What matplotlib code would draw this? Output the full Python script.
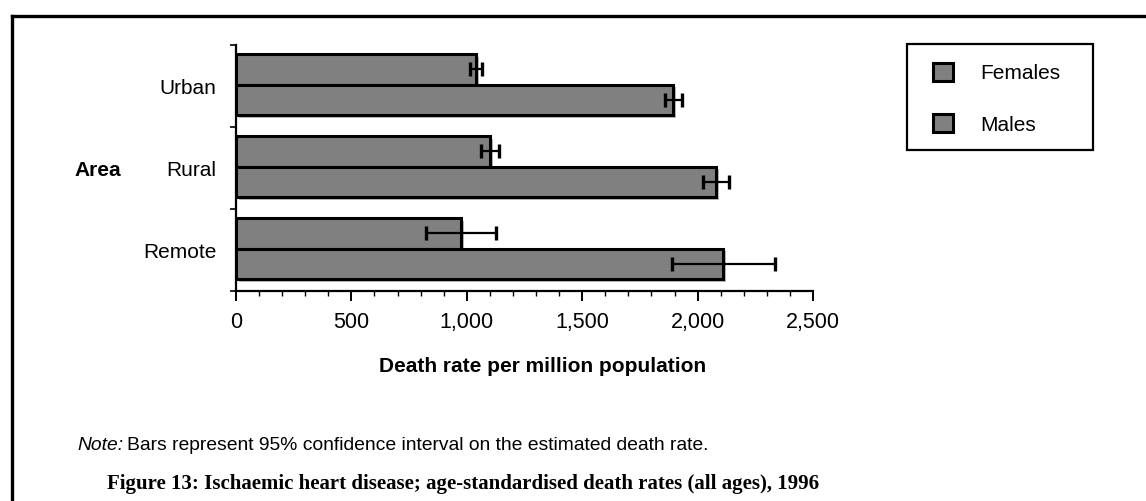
import matplotlib
matplotlib.use("Agg")
import matplotlib.pyplot as plt
from matplotlib.patches import Patch, Rectangle
from matplotlib.lines import Line2D
import matplotlib.patheffects as pe
from matplotlib.ticker import MultipleLocator, FixedLocator, FuncFormatter

areas = ["Remote", "Rural", "Urban"]
females = [975, 1100, 1040]
females_err = [150, 38, 25]
males = [2112, 2080, 1895]
males_err = [225, 58, 38]

plt.rcParams['font.family'] = ['Liberation Sans', 'DejaVu Sans']

W, H = 1146, 501
fig = plt.figure(figsize=(W / 100, H / 100), dpi=100)

ax = fig.add_axes([236 / W, 1 - 291 / H, (813 - 236) / W, (291 - 45) / H])

grey = "#808080"
h = 0.375
ypos = list(range(len(areas)))
yf = [y + 0.205 for y in ypos]
ym = [y - 0.17 for y in ypos]
shadow = [pe.SimplePatchShadow(offset=(2, -2), shadow_rgbFace="#b8b8b8", alpha=1.0), pe.Normal()]

bf = ax.barh(yf, females, height=h, color=grey, edgecolor="black", linewidth=2.2, zorder=2)
bm = ax.barh(ym, males, height=h, color=grey, edgecolor="black", linewidth=2.2, zorder=2)
for b in list(bf) + list(bm):
    b.set_path_effects(shadow)

ax.errorbar(females, yf, xerr=females_err, fmt="none", ecolor="black", elinewidth=1.6,
            capsize=5, capthick=2.4, zorder=3)
ax.errorbar(males, ym, xerr=males_err, fmt="none", ecolor="black", elinewidth=1.6,
            capsize=5, capthick=2.4, zorder=3)

ax.set_xlim(0, 2500)
ax.set_ylim(-0.5, 2.5)

for s in ["top", "right"]:
    ax.spines[s].set_visible(False)
for s in ["left", "bottom"]:
    ax.spines[s].set_linewidth(1.6)
    ax.spines[s].set_color("black")

ax.xaxis.set_major_locator(MultipleLocator(500))
ax.xaxis.set_minor_locator(MultipleLocator(100))
ax.xaxis.set_major_formatter(FuncFormatter(lambda v, p: f"{int(v):,}"))
ax.tick_params(axis="x", which="major", length=7, width=1.4, direction="out", labelsize=15.5, pad=8)
ax.tick_params(axis="x", which="minor", length=3.5, width=1.0, direction="out")

ax.yaxis.set_major_locator(FixedLocator(ypos))
ax.set_yticklabels(areas)
ax.yaxis.set_minor_locator(FixedLocator([-0.5, 0.5, 1.5, 2.5]))
ax.tick_params(axis="y", which="major", length=0, labelsize=15, pad=14)
ax.tick_params(axis="y", which="minor", length=4.5, width=1.2, direction="out")

fig.text(98 / W, 1 - 171 / H, "Area", fontsize=15, fontweight="bold", ha="center", va="center")
fig.text(543 / W, 1 - 367 / H, "Death rate per million population", fontsize=15,
         fontweight="bold", ha="center", va="center")

handles = [Patch(facecolor=grey, edgecolor="black", linewidth=2.2, label="Females"),
           Patch(facecolor=grey, edgecolor="black", linewidth=2.2, label="Males")]
leg = fig.legend(handles=handles, loc="upper left", bbox_to_anchor=(933 / W, 1 - 63 / H),
                 bbox_transform=fig.transFigure, fontsize=15, frameon=False,
                 borderaxespad=0, borderpad=0, handlelength=0.95,
                 handleheight=0.95, handletextpad=1.3, labelspacing=1.5)
fig.add_artist(Rectangle((907 / W, 1 - 150 / H), (1093 - 907) / W, (150 - 44) / H,
                         transform=fig.transFigure, fill=False, edgecolor="black", linewidth=1.6))

# Note text
t1 = fig.text(77 / W, 1 - 445 / H, "Note:", fontsize=13.9, fontstyle="italic", ha="left", va="center")
fig.canvas.draw()
bb = t1.get_window_extent()
fig.text((bb.x1 + 4) / W, 1 - 445 / H, "Bars represent 95% confidence interval on the estimated death rate.",
         fontsize=13.9, ha="left", va="center")

fig.text(107 / W, 1 - 484 / H,
         "Figure 13: Ischaemic heart disease; age-standardised death rates (all ages), 1996",
         fontsize=15.05, fontweight="bold", family=["Liberation Serif", "DejaVu Serif"],
         ha="left", va="center")

# page border lines (top and left)
fig.add_artist(Line2D([12 / W, 1], [1 - 16 / H, 1 - 16 / H], color="black", linewidth=2.4,
                      transform=fig.transFigure))
fig.add_artist(Line2D([12 / W, 12 / W], [0, 1 - 16 / H], color="black", linewidth=2.4,
                      transform=fig.transFigure))

fig.savefig("out.png", dpi=100)
